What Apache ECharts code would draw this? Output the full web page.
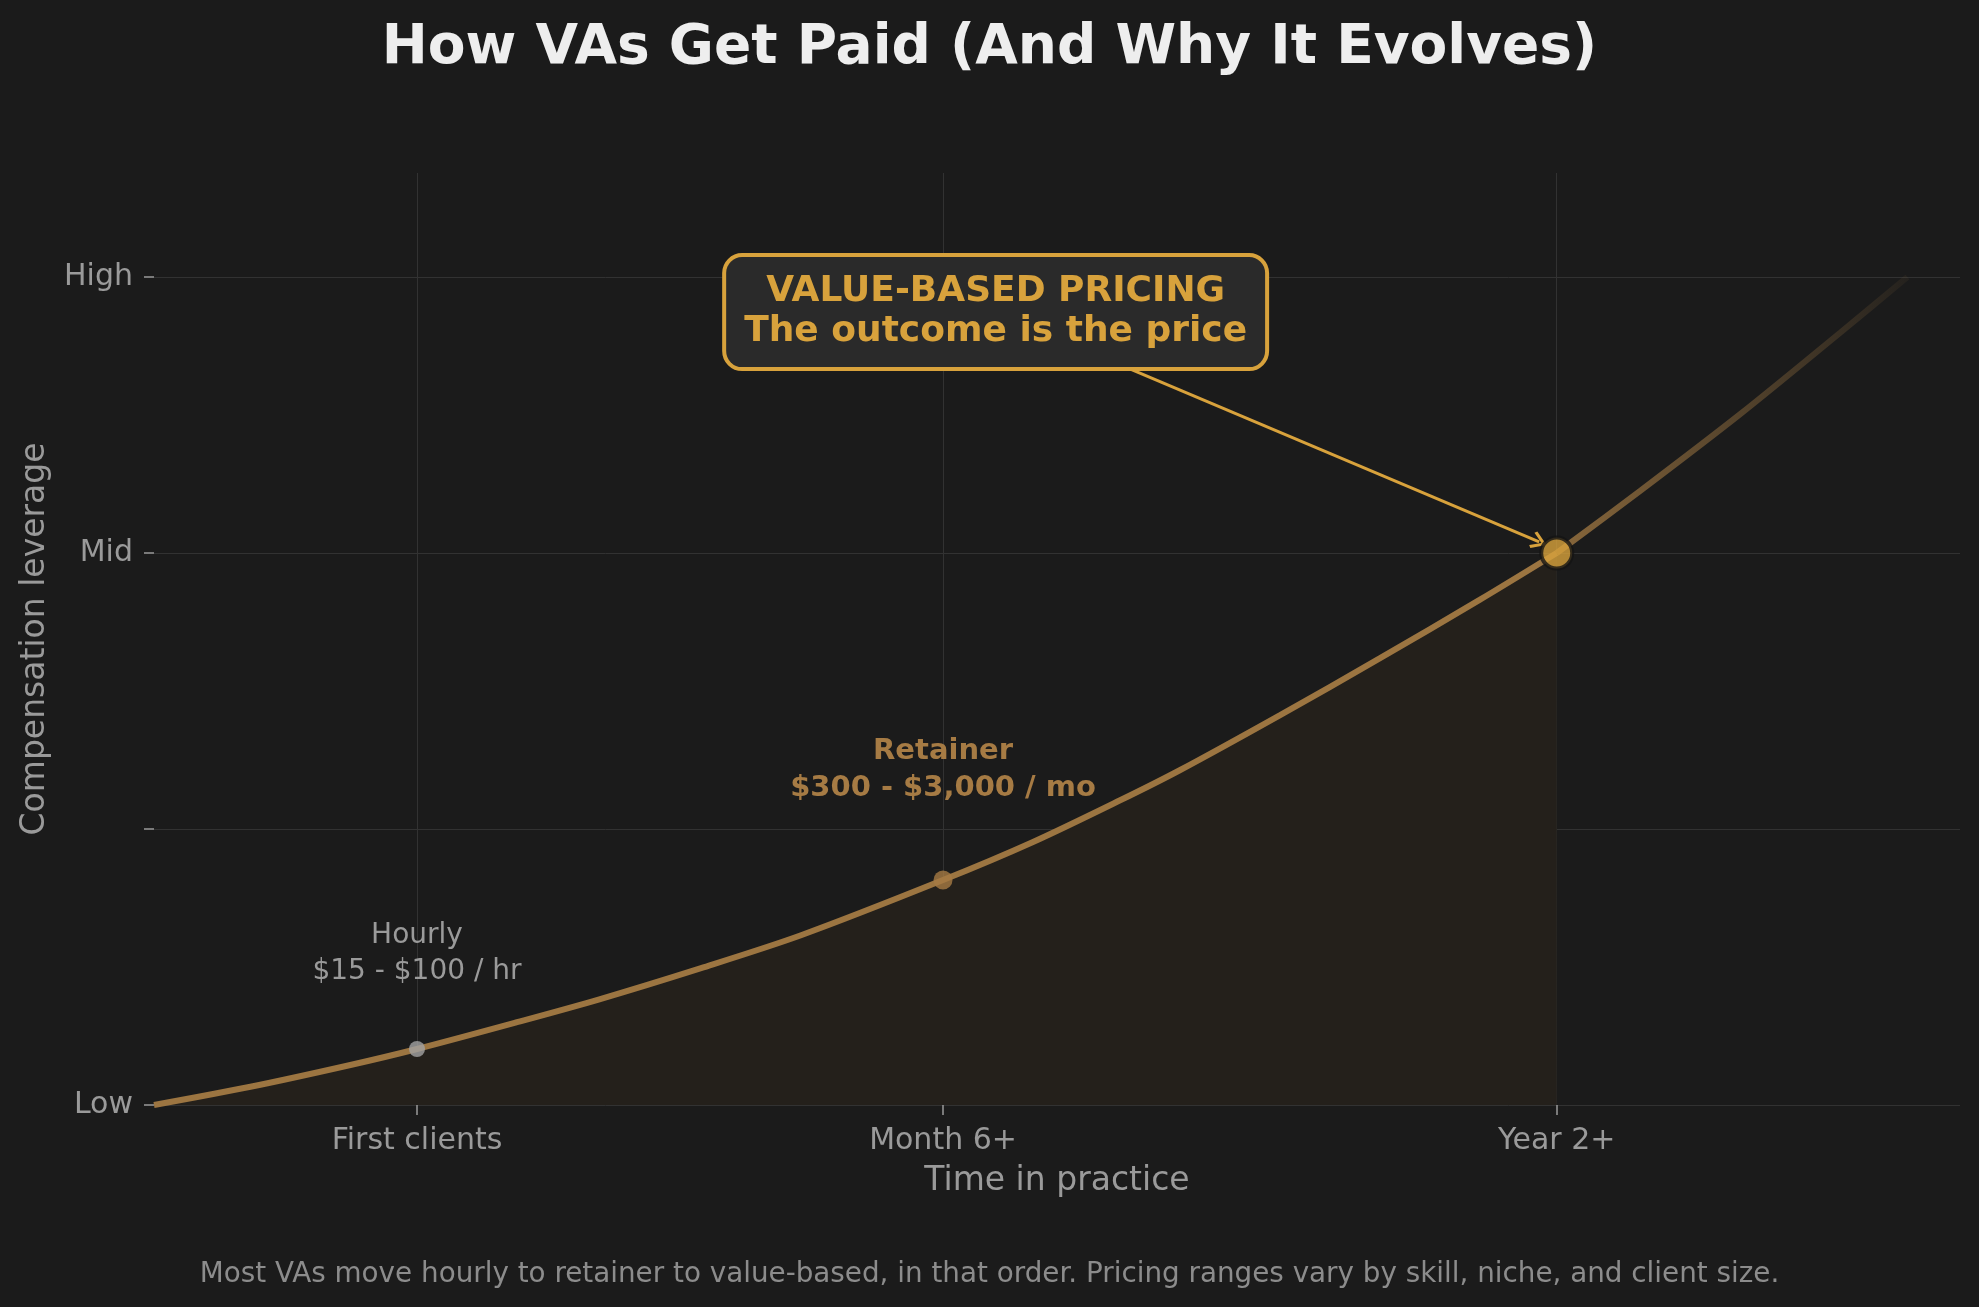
<!DOCTYPE html>
<html><head><meta charset="utf-8">
<script src="https://cdn.jsdelivr.net/npm/echarts@6/dist/echarts.min.js"></script>
<style>html,body{margin:0;padding:0;background:#1b1b1b;}#c{width:1979px;height:1307px;}</style>
</head><body><div id="c"></div>
<script>
// ---- data ----
const xTickValues = [1.5, 4.5, 8];
const xTickLabels = ['First clients', 'Month 6+', 'Year 2+'];
const yTickValues = [0, 1, 2, 3];
const yTickLabels = ['Low', '', 'Mid', 'High'];
const curveX = [0, 0.55, 1.12, 1.5, 2.07, 2.54, 3.12, 3.69, 4.5, 5.01, 5.51, 5.85, 6.42, 6.99, 7.56, 8.0];
const curveY = [0, 0.066, 0.145, 0.203, 0.30, 0.383, 0.496, 0.615, 0.815, 0.952, 1.104, 1.213, 1.412, 1.618, 1.83, 2.0];
const tailX = [8.0, 8.48, 9.05, 9.62, 10.0];
const tailY = [2.0, 2.227, 2.505, 2.80, 3.0];
const stageX = [1.5, 4.5, 8];
const stageY = [0.203, 0.815, 2.0];
const stageTitles = ['Hourly', 'Retainer', 'VALUE-BASED PRICING'];
const stageRanges = ['$15 - $100 / hr', '$300 - $3,000 / mo', 'The outcome is the price'];

const FONT = 'DejaVu Sans';
const GOLD = '#d8a23c';
const LINE = '#9c7541';
const GRAY = '#9a9a9a';

const zip = (a, b) => a.map((v, i) => [v, b[i]]);

const chart = echarts.init(document.getElementById('c'), null, {renderer: 'canvas'});
chart.setOption({
  backgroundColor: '#1b1b1b',
  animation: false,
  title: [{
    text: 'How VAs Get Paid (And Why It Evolves)',
    left: 'center', top: 16,
    textStyle: {color: '#eeeeee', fontFamily: FONT, fontWeight: 'bold', fontSize: 55}
  }, {
    text: 'Most VAs move hourly to retainer to value-based, in that order. Pricing ranges vary by skill, niche, and client size.',
    left: 'center', top: 1256,
    textStyle: {color: '#8c8c8c', fontFamily: FONT, fontWeight: 'normal', fontSize: 27.8}
  }],
  grid: {left: 154, right: 19, top: 173, bottom: 202, containLabel: false, outerBoundsMode: 'none'},
  xAxis: {
    type: 'value', min: 0, max: 10.3,
    name: 'Time in practice', nameLocation: 'middle', nameGap: 60,
    nameTextStyle: {color: GRAY, fontFamily: FONT, fontSize: 33},
    axisLine: {show: false},
    axisTick: {show: true, customValues: xTickValues, length: 10, lineStyle: {color: GRAY, width: 1.5}},
    axisLabel: {customValues: xTickValues, margin: 21, color: GRAY, fontFamily: FONT, fontSize: 30,
      formatter: v => xTickLabels[xTickValues.indexOf(v)] ?? ''},
    splitLine: {show: true, lineStyle: {color: '#323232', width: 1}}
  },
  yAxis: {
    type: 'value', min: 0, max: 3.377,
    name: 'Compensation leverage', nameLocation: 'middle', nameGap: 102,
    nameTextStyle: {color: GRAY, fontFamily: FONT, fontSize: 33},
    axisLine: {show: false},
    axisTick: {show: true, customValues: yTickValues, length: 10, lineStyle: {color: GRAY, width: 1.5}},
    axisLabel: {customValues: yTickValues, margin: 21, color: GRAY, fontFamily: FONT, fontSize: 30,
      formatter: v => yTickLabels[yTickValues.indexOf(v)] ?? ''},
    splitLine: {show: true, lineStyle: {color: '#323232', width: 1}}
  },
  series: [{
    type: 'line', data: zip(curveX, curveY), smooth: 0.3,
    symbol: 'none', lineStyle: {color: LINE, width: 6},
    areaStyle: {color: '#24201b', opacity: 1}, z: 2
  }, {
    type: 'line', data: zip(tailX, tailY), smooth: 0.3,
    symbol: 'none',
    lineStyle: {width: 6, color: new echarts.graphic.LinearGradient(0, 0, 1, 0, [
      {offset: 0, color: 'rgba(156,117,65,0.85)'},
      {offset: 1, color: 'rgba(156,117,65,0.07)'}
    ])}, z: 2
  }, {
    type: 'scatter', z: 5,
    data: zip(stageX, stageY).map((p, i) => ({
      value: p,
      symbolSize: [16, 19, 31][i],
      itemStyle: [
        {color: '#a3a3a3'},
        {color: '#a67b44'},
        {color: GOLD, borderColor: '#141414', borderWidth: 4}
      ][i]
    })),
    markLine: {
      silent: true, animation: false, z: 4,
      symbol: ['none', 'path://M8,0 L16,12.5 L14,14.5 L8,5 L2,14.5 L0,12.5 Z'],
      symbolSize: [18, 16],
      lineStyle: {color: GOLD, width: 3, type: 'solid'},
      label: {show: false},
      data: [[{coord: [5.562, 2.668]}, {coord: [7.9, 2.04]}]]
    },
    markPoint: {
      silent: true, symbol: 'circle', symbolSize: 1, itemStyle: {color: 'rgba(0,0,0,0)'},
      data: [{
        coord: [1.5, 0.548],
        label: {show: true, position: 'inside', formatter: stageTitles[0] + '\n' + stageRanges[0],
          color: GRAY, fontFamily: FONT, fontSize: 28, lineHeight: 36, align: 'center'}
      }, {
        coord: [4.5, 1.215],
        label: {show: true, position: 'inside', formatter: stageTitles[1] + '\n' + stageRanges[1],
          color: '#a67b44', fontFamily: FONT, fontWeight: 'bold', fontSize: 29, lineHeight: 37, align: 'center'}
      }, {
        coord: [4.8, 2.873],
        label: {show: true, position: 'inside', formatter: stageTitles[2] + '\n' + stageRanges[2],
          color: GOLD, fontFamily: FONT, fontWeight: 'bold', fontSize: 36, lineHeight: 40, align: 'center',
          backgroundColor: '#2a2a2a', borderColor: GOLD, borderWidth: 4, borderRadius: 16, padding: [15, 18]}
      }]
    }
  }]
});
</script></body></html>
